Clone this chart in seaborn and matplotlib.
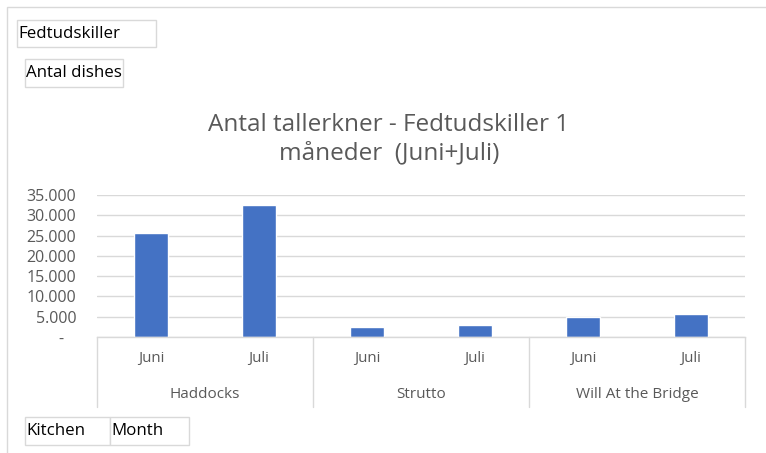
import matplotlib
matplotlib.use('Agg')
import matplotlib.pyplot as plt
import matplotlib.transforms as mtrans
from matplotlib.patches import Rectangle
from matplotlib.ticker import FuncFormatter
import seaborn as sns
import pandas as pd

# data
kitchens = ['Haddocks', 'Strutto', 'Will At the Bridge']
months = ['Juni', 'Juli']
dishes_juni = [25630, 2460, 4930]
dishes_juli = [32650, 2900, 5670]

rows = []
for k, a, b in zip(kitchens, dishes_juni, dishes_juli):
    rows.append({'label': k + ' | Juni', 'kitchen': k, 'month': 'Juni', 'dishes': a})
    rows.append({'label': k + ' | Juli', 'kitchen': k, 'month': 'Juli', 'dishes': b})
df = pd.DataFrame(rows)

sns.set_theme(style='white')
plt.rcParams['font.family'] = ['Open Sans', 'DejaVu Sans']

W, H = 766, 453
fig = plt.figure(figsize=(W / 100, H / 100), dpi=100)

def fx(x):
    return x / W

def fy(y):
    return 1 - y / H

grey_txt = '#595959'
grid_c = '#d9d9d9'

# chart frame
fig.patches.append(Rectangle((fx(7), fy(470)), fx(800) - fx(7), fy(7) - fy(470),
                             transform=fig.transFigure, fill=False,
                             edgecolor=grid_c, linewidth=1))

ax = fig.add_axes([fx(97), fy(337), fx(745) - fx(97), fy(195) - fy(337)])
sns.barplot(data=df, x='label', y='dishes', color='#4472C4', width=0.31,
            saturation=1, errorbar=None, ax=ax)

ax.set_ylim(0, 35000)
ax.set_yticks(range(0, 35001, 5000))
ax.yaxis.set_major_formatter(FuncFormatter(
    lambda v, p: '-   ' if v == 0 else f'{int(v):,}'.replace(',', '.')))
ax.set_xlim(-0.5, len(df) - 0.5)
ax.set_xticks(range(len(df)))
ax.set_xticklabels(df['month'])
ax.set_xlabel('')
ax.set_ylabel('')
ax.grid(axis='y', color=grid_c, linewidth=1)
ax.set_axisbelow(True)
for s in ['top', 'right', 'left']:
    ax.spines[s].set_visible(False)
ax.spines['bottom'].set_color(grid_c)
ax.spines['bottom'].set_linewidth(1)
ax.tick_params(axis='y', length=0, pad=15, labelsize=11.5, labelcolor=grey_txt)
ax.tick_params(axis='x', length=0, pad=10, labelsize=10.8, labelcolor=grey_txt)

# multi-level category axis
trans = mtrans.blended_transform_factory(ax.transData, ax.transAxes)
axh = 337 - 195
for i, k in enumerate(kitchens):
    ax.text(2 * i + 0.5, -58 / axh, k, transform=trans, ha='center', va='center',
            fontsize=11, color=grey_txt)
for b in [-0.5, 1.5, 3.5, 5.5]:
    ax.plot([b, b], [0, -70 / axh], transform=trans, color=grid_c,
            linewidth=1, clip_on=False)

# title
fig.text(fx(389), fy(139), 'Antal tallerkner - Fedtudskiller 1\nmåneder  (Juni+Juli)',
         ha='center', va='center', fontsize=17.5, color=grey_txt, linespacing=1.25)

# pivot field buttons
def button(x0, y0, x1, y1, txt):
    fig.patches.append(Rectangle((fx(x0), fy(y1)), fx(x1) - fx(x0), fy(y0) - fy(y1),
                                 transform=fig.transFigure, facecolor='white',
                                 edgecolor=grid_c, linewidth=1))
    fig.text(fx(x0 + 1), fy((y0 + y1) / 2), txt, ha='left', va='center',
             fontsize=12.2, color='black')

button(17, 20, 156, 47, 'Fedtudskiller')
button(25, 59, 123, 87, 'Antal dishes')
button(25, 417, 110, 445, 'Kitchen')
button(110, 417, 189, 445, 'Month')

fig.savefig('out.png', dpi=100, facecolor='white')
